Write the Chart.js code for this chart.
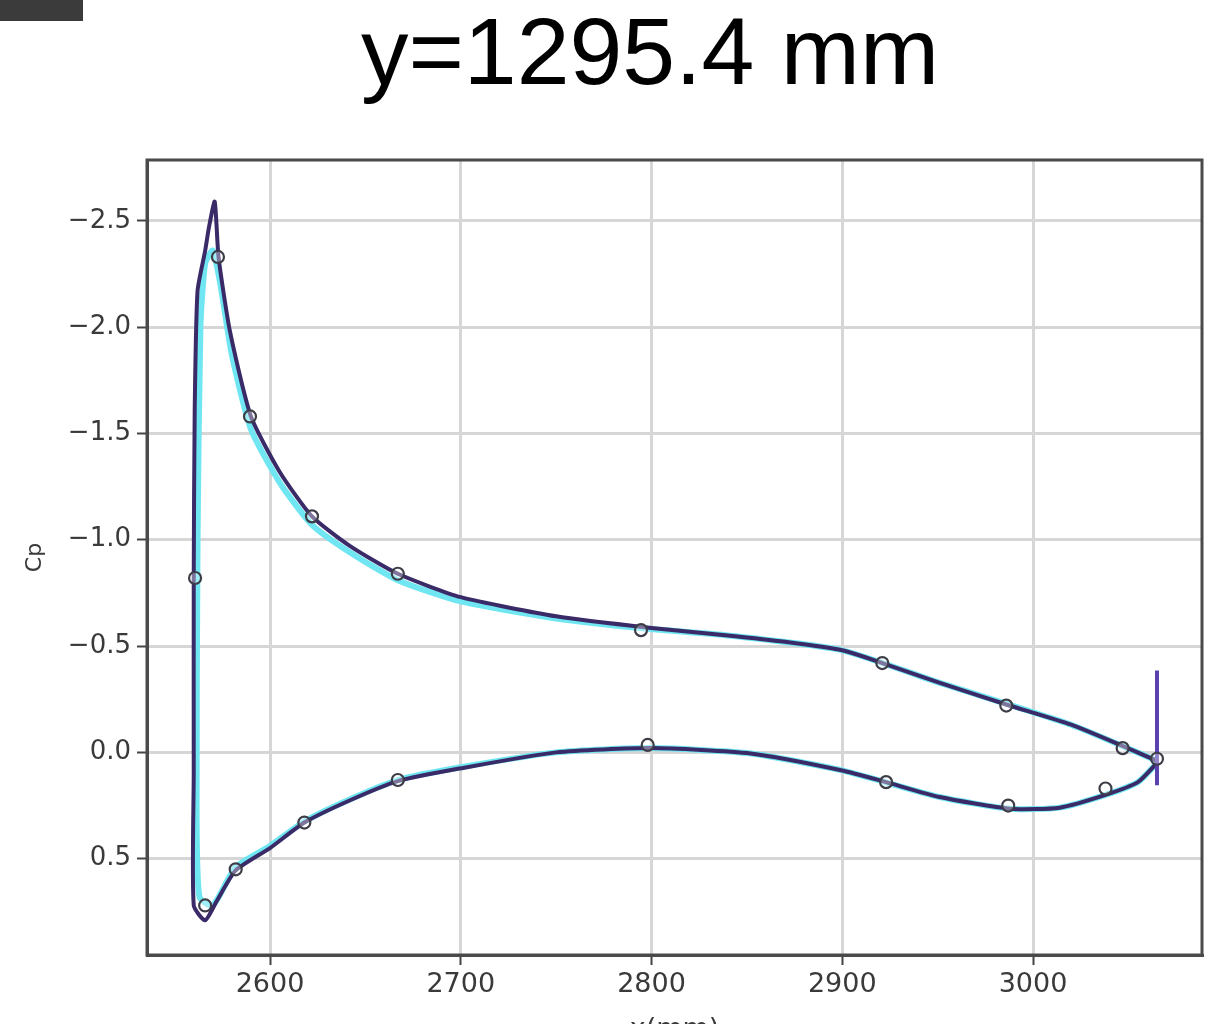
<!DOCTYPE html>
<html>
<head>
<meta charset="utf-8">
<script src="https://cdn.jsdelivr.net/npm/chart.js@4/dist/chart.umd.min.js"></script>
<style>
  html, body { margin: 0; padding: 0; background: #fff; width: 1231px; height: 1024px; overflow: hidden; }
  #corner { position: absolute; left: 0; top: 0; width: 83px; height: 21px; background: #3b3b3b; }
  #title { position: absolute; left: 0; top: 4px; width: 1300px; text-align: center;
           font-family: "Liberation Sans", Arial, sans-serif; font-size: 95px; line-height: 94px; color: #000; }
  #wrap { position: absolute; left: 0; top: 0; width: 1231px; height: 1024px; }
</style>
</head>
<body>
<div id="wrap"><canvas id="c" width="1231" height="1024"></canvas></div>
<div id="corner"></div>
<div id="title">y=1295.4 mm</div>
<script>
// ---- data (x in mm, Cp) ----
const purpleX  = [3065, 3047, 3020, 2986, 2950, 2921, 2900, 2870, 2840, 2800, 2750, 2700, 2667, 2642, 2622, 2605, 2590, 2579, 2573, 2571, 2568, 2566, 2562, 2560.5, 2560, 2560, 2560, 2566, 2572, 2582, 2600, 2618, 2642, 2667, 2700, 2750, 2800, 2852, 2900, 2923, 2951, 2988, 3014, 3038, 3055, 3065];
const purpleCp = [0.04, -0.03, -0.13, -0.225, -0.33, -0.42, -0.48, -0.52, -0.55, -0.585, -0.64, -0.73, -0.84, -0.97, -1.11, -1.32, -1.58, -1.98, -2.33, -2.59, -2.47, -2.36, -2.17, -1.6, -0.82, 0.1, 0.72, 0.79, 0.7, 0.555, 0.45, 0.33, 0.225, 0.135, 0.075, 0.0, -0.02, 0.005, 0.085, 0.14, 0.21, 0.265, 0.26, 0.2, 0.14, 0.05];

const cyanX  = [3065, 3020, 2950, 2900, 2840, 2800, 2750, 2700, 2667, 2642, 2622, 2605, 2590, 2580, 2574, 2570, 2566, 2563.5, 2562, 2561.5, 2563, 2570, 2582, 2600, 2618, 2642, 2667, 2700, 2750, 2800, 2852, 2900, 2951, 2988, 3014, 3038, 3055, 3065];
const cyanCp = [0.04, -0.13, -0.33, -0.48, -0.55, -0.58, -0.63, -0.71, -0.81, -0.94, -1.07, -1.27, -1.52, -1.87, -2.2, -2.36, -2.3, -2.0, -1.0, 0.3, 0.68, 0.72, 0.54, 0.44, 0.325, 0.22, 0.13, 0.07, 0.0, -0.02, 0.005, 0.085, 0.21, 0.265, 0.26, 0.2, 0.14, 0.05];

const teX  = [3065, 3065];
const teCp = [-0.385, 0.155];

const expX  = [2560.7, 2572.7, 2589.5, 2622, 2667, 2794.5, 2921, 2986, 3047, 3065, 2566, 2582, 2618, 2667, 2798, 2923, 2987, 3038];
const expCp = [-0.82, -2.33, -1.58, -1.11, -0.84, -0.575, -0.42, -0.22, -0.02, 0.03, 0.72, 0.55, 0.33, 0.13, -0.035, 0.14, 0.25, 0.17];

const xTicks = [2600, 2700, 2800, 2900, 3000];
const yTicks = [-2.5, -2.0, -1.5, -1.0, -0.5, 0.0, 0.5];
const xRange = [2535.5, 3088.6];
const yRange = [-2.786, 0.953];

const pts = (xs, ys) => xs.map((x, i) => ({ x: x, y: ys[i] }));
const fmtY = v => (v < 0 ? '\u2212' + Math.abs(v).toFixed(1) : v.toFixed(1));

const frame = {
  id: 'frame',
  afterDatasetsDraw(chart) {
    const { ctx, chartArea: a } = chart;
    ctx.save();
    ctx.strokeStyle = '#4a4a4a';
    ctx.lineWidth = 3;
    ctx.strokeRect(a.left, a.top, a.right - a.left, a.bottom - a.top);
    ctx.restore();
  }
};

new Chart(document.getElementById('c'), {
  type: 'scatter',
  data: {
    datasets: [
      { label: 'exp', data: pts(expX, expCp), showLine: false,
        pointStyle: 'circle', pointRadius: 6, pointBorderWidth: 2.2,
        pointBorderColor: '#3d3d48', pointBackgroundColor: 'rgba(255,255,255,0.35)' },
      { label: 'te', data: pts(teX, teCp), showLine: true, pointRadius: 0,
        borderColor: '#5a42ae', borderWidth: 4 },
      { label: 'purple', data: pts(purpleX, purpleCp), showLine: true, pointRadius: 0,
        borderColor: '#3a2a68', borderWidth: 4, tension: 0.2 },
      { label: 'cyan', data: pts(cyanX, cyanCp), showLine: true, pointRadius: 0,
        borderColor: '#6fe6f2', borderWidth: 6, tension: 0.2 }
    ]
  },
  options: {
    responsive: false,
    animation: false,
    layout: { padding: { top: 160, right: 29, bottom: 0, left: 0 } },
    plugins: { legend: { display: false }, tooltip: { enabled: false } },
    scales: {
      x: {
        type: 'linear', min: xRange[0], max: xRange[1],
        afterBuildTicks: s => { s.ticks = xTicks.map(v => ({ value: v })); },
        afterFit: s => { s.height = 69; },
        ticks: { color: '#3a3a3a', font: { family: 'DejaVu Sans', size: 27 }, padding: 4,
                 callback: v => String(v) },
        grid: { color: '#d6d6d6', lineWidth: 3, tickLength: 10, tickColor: '#444', tickWidth: 2 },
        border: { color: '#4a4a4a', width: 3 },
        title: { display: true, text: 'x(mm)', color: '#3a3a3a',
                 font: { family: 'DejaVu Sans', size: 27 }, padding: { top: 0, bottom: -22 } }
      },
      y: {
        type: 'linear', reverse: true, min: yRange[0], max: yRange[1],
        afterBuildTicks: s => { s.ticks = yTicks.map(v => ({ value: v })); },
        afterFit: s => { s.width = 147; },
        ticks: { color: '#3a3a3a', font: { family: 'DejaVu Sans', size: 26 }, padding: 6,
                 callback: v => fmtY(v) },
        grid: { color: '#d6d6d6', lineWidth: 3, tickLength: 10, tickColor: '#444', tickWidth: 2 },
        border: { color: '#4a4a4a', width: 3 },
        title: { display: true, text: 'Cp', color: '#3a3a3a',
                 font: { family: 'DejaVu Sans', size: 22 }, padding: { top: 22, bottom: 0 } }
      }
    }
  },
  plugins: [frame]
});
</script>
</body>
</html>
